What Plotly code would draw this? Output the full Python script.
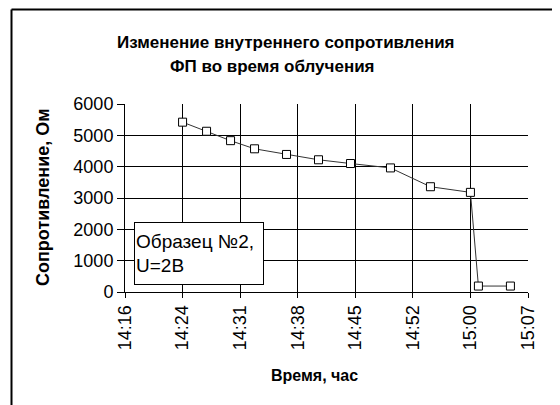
import plotly.graph_objects as go

# Data
times = ["14:24", "14:27", "14:30", "14:33", "14:37", "14:41", "14:45",
         "14:50", "14:55", "15:00", "15:01", "15:05"]
resistance = [5420, 5130, 4830, 4570, 4390, 4220, 4100, 3960, 3360, 3180, 190, 190]

tick_times = ["14:16:48", "14:24:00", "14:31:12", "14:38:24", "14:45:36",
              "14:52:48", "15:00:00", "15:07:12"]
tick_labels = ["14:16", "14:24", "14:31", "14:38", "14:45", "14:52", "15:00", "15:07"]
y_ticks = [0, 1000, 2000, 3000, 4000, 5000, 6000]

title_line1 = "Изменение внутреннего сопротивления"
title_line2 = "ФП во время облучения"
x_title = "Время, час"
y_title = "Сопротивление, Ом"
note = "Образец №2,<br>U=2В"

day = "2000-01-01 "
x = [day + t + ":00" for t in times]
tickvals = [day + t for t in tick_times]

FONT = "Liberation Sans, Arial, sans-serif"

# page body has an 8px default margin; compensate so the figure lands like the reference
OFF = 8
PL, PR, PT, PB = 125, 528, 104, 292  # plot area in page pixels

fig = go.Figure()
fig.add_trace(go.Scatter(
    x=x, y=resistance, mode="lines+markers",
    line=dict(color="#333333", width=1),
    marker=dict(symbol="square", size=8, color="white",
                line=dict(color="black", width=1)),
    showlegend=False,
))

fig.update_layout(
    width=560, height=405,
    margin=dict(l=PL - OFF, r=560 - (PR - OFF), t=PT - OFF, b=405 - (PB - OFF), autoexpand=False),
    paper_bgcolor="white", plot_bgcolor="white",
    font=dict(family=FONT, color="black", size=18),
    xaxis=dict(
        type="date",
        range=[tickvals[0], tickvals[-1]],
        tickvals=tickvals, ticktext=tick_labels,
        tickangle=-90,
        showgrid=True, gridcolor="black", gridwidth=1,
        showline=True, linecolor="black", linewidth=1,
        ticks="outside", ticklen=5, tickcolor="black",
        tickfont=dict(size=18),
        zeroline=False,
    ),
    yaxis=dict(
        range=[0, 6000],
        tickvals=y_ticks,
        showgrid=True, gridcolor="black", gridwidth=1,
        showline=True, linecolor="black", linewidth=1,
        ticks="outside", ticklen=7, tickcolor="black",
        tickfont=dict(size=18),
        zeroline=False,
    ),
)

def px_to_paper_x(px):
    return (px - PL) / float(PR - PL)

def px_to_paper_y(py):
    return (PB - py) / float(PB - PT)

annots = [
    dict(text="<b>%s</b>" % title_line1, x=px_to_paper_x(286), y=px_to_paper_y(42),
         font=dict(size=17)),
    dict(text="<b>%s</b>" % title_line2, x=px_to_paper_x(272), y=px_to_paper_y(67),
         font=dict(size=17)),
    dict(text="<b>%s</b>" % x_title, x=px_to_paper_x(314), y=px_to_paper_y(375),
         font=dict(size=16)),
    dict(text="<b>%s</b>" % y_title, x=px_to_paper_x(43), y=px_to_paper_y(197),
         font=dict(size=18), textangle=-90),
]
for a in annots:
    fig.add_annotation(xref="paper", yref="paper", xanchor="center", yanchor="middle",
                       showarrow=False, **a)

fig.add_annotation(
    xref="paper", yref="paper", x=px_to_paper_x(199), y=px_to_paper_y(253.5),
    xanchor="center", yanchor="middle", showarrow=False,
    text=note, align="left", width=126, height=59,
    bordercolor="black", borderwidth=1, borderpad=1, bgcolor="white",
    font=dict(size=19),
)

# outer chart frame (top and left edges visible)
fig.add_shape(type="line", xref="paper", yref="paper",
              x0=px_to_paper_x(11.5), x1=px_to_paper_x(600),
              y0=px_to_paper_y(9.5), y1=px_to_paper_y(9.5),
              line=dict(color="black", width=2))
fig.add_shape(type="line", xref="paper", yref="paper",
              x0=px_to_paper_x(11.5), x1=px_to_paper_x(11.5),
              y0=px_to_paper_y(9.5), y1=px_to_paper_y(450),
              line=dict(color="black", width=2))

fig.write_html("out.html")
